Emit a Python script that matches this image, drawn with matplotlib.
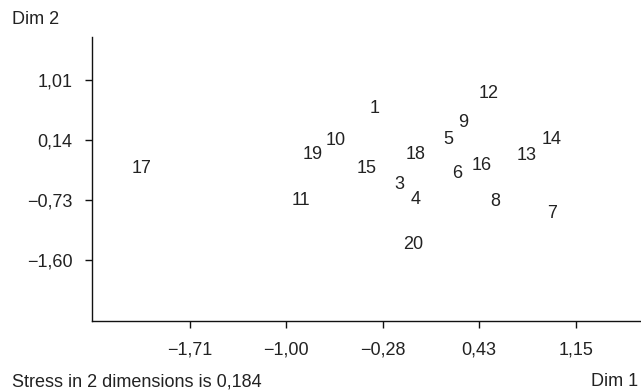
import matplotlib
matplotlib.use("Agg")
import matplotlib.pyplot as plt

plt.rcParams['font.family'] = ['Liberation Sans', 'DejaVu Sans']

labels = ["1", "3", "4", "5", "6", "7", "8", "9", "10", "11", "12", "13", "14",
          "15", "16", "17", "18", "19", "20"]
dim1 = [-0.34, -0.16, -0.04, 0.20, 0.27, 0.97, 0.55, 0.31, -0.63, -0.89, 0.50,
        0.78, 0.97, -0.40, 0.45, -2.07, -0.04, -0.80, -0.06]
dim2 = [0.59, -0.50, -0.73, 0.15, -0.34, -0.93, -0.755, 0.39, 0.14, -0.74, 0.82,
        -0.09, 0.15, -0.28, -0.23, -0.28, -0.07, -0.07, -1.37]

xticks = [-1.71, -1.00, -0.28, 0.43, 1.15]
yticks = [1.01, 0.14, -0.73, -1.60]

def fmt(v):
    s = f"{abs(v):.2f}".replace(".", ",")
    return ("\u2212" + s) if v < 0 else s

W, H = 641, 391
FS = 13
fig = plt.figure(figsize=(W / 100, H / 100), dpi=100)
ax = fig.add_axes([92 / W, 70 / H, (W - 92) / W, (321 - 37) / H])
ax.set_xlim(-2.437, 1.631)
ax.set_ylim(-2.485, 1.634)

txtc = "#222222"
for lab, x, y in zip(labels, dim1, dim2):
    ax.text(x, y, lab, ha="center", va="center", fontsize=FS, color=txtc)

for s in ["top", "right"]:
    ax.spines[s].set_visible(False)
for s in ["left", "bottom"]:
    ax.spines[s].set_linewidth(1.0)
    ax.spines[s].set_color("#111111")

ax.set_xticks(xticks)
ax.set_xticklabels([fmt(v) for v in xticks])
ax.set_yticks(yticks)
ax.set_yticklabels([fmt(v) for v in yticks])
ax.tick_params(axis="x", length=5, width=1, pad=10, labelsize=FS, colors="#111111", labelcolor=txtc)
ax.tick_params(axis="y", length=5, width=1, pad=9, labelsize=FS, colors="#111111", labelcolor=txtc)

fig.text(12 / W, 1 - 20 / H, "Dim 2", ha="left", va="center", fontsize=FS, color=txtc)
fig.text(12 / W, 1 - 382 / H, "Stress in 2 dimensions is 0,184", ha="left", va="center", fontsize=FS, color=txtc)
fig.text(638 / W, 1 - 382 / H, "Dim 1", ha="right", va="center", fontsize=FS, color=txtc)

fig.savefig("out.png", dpi=100)
